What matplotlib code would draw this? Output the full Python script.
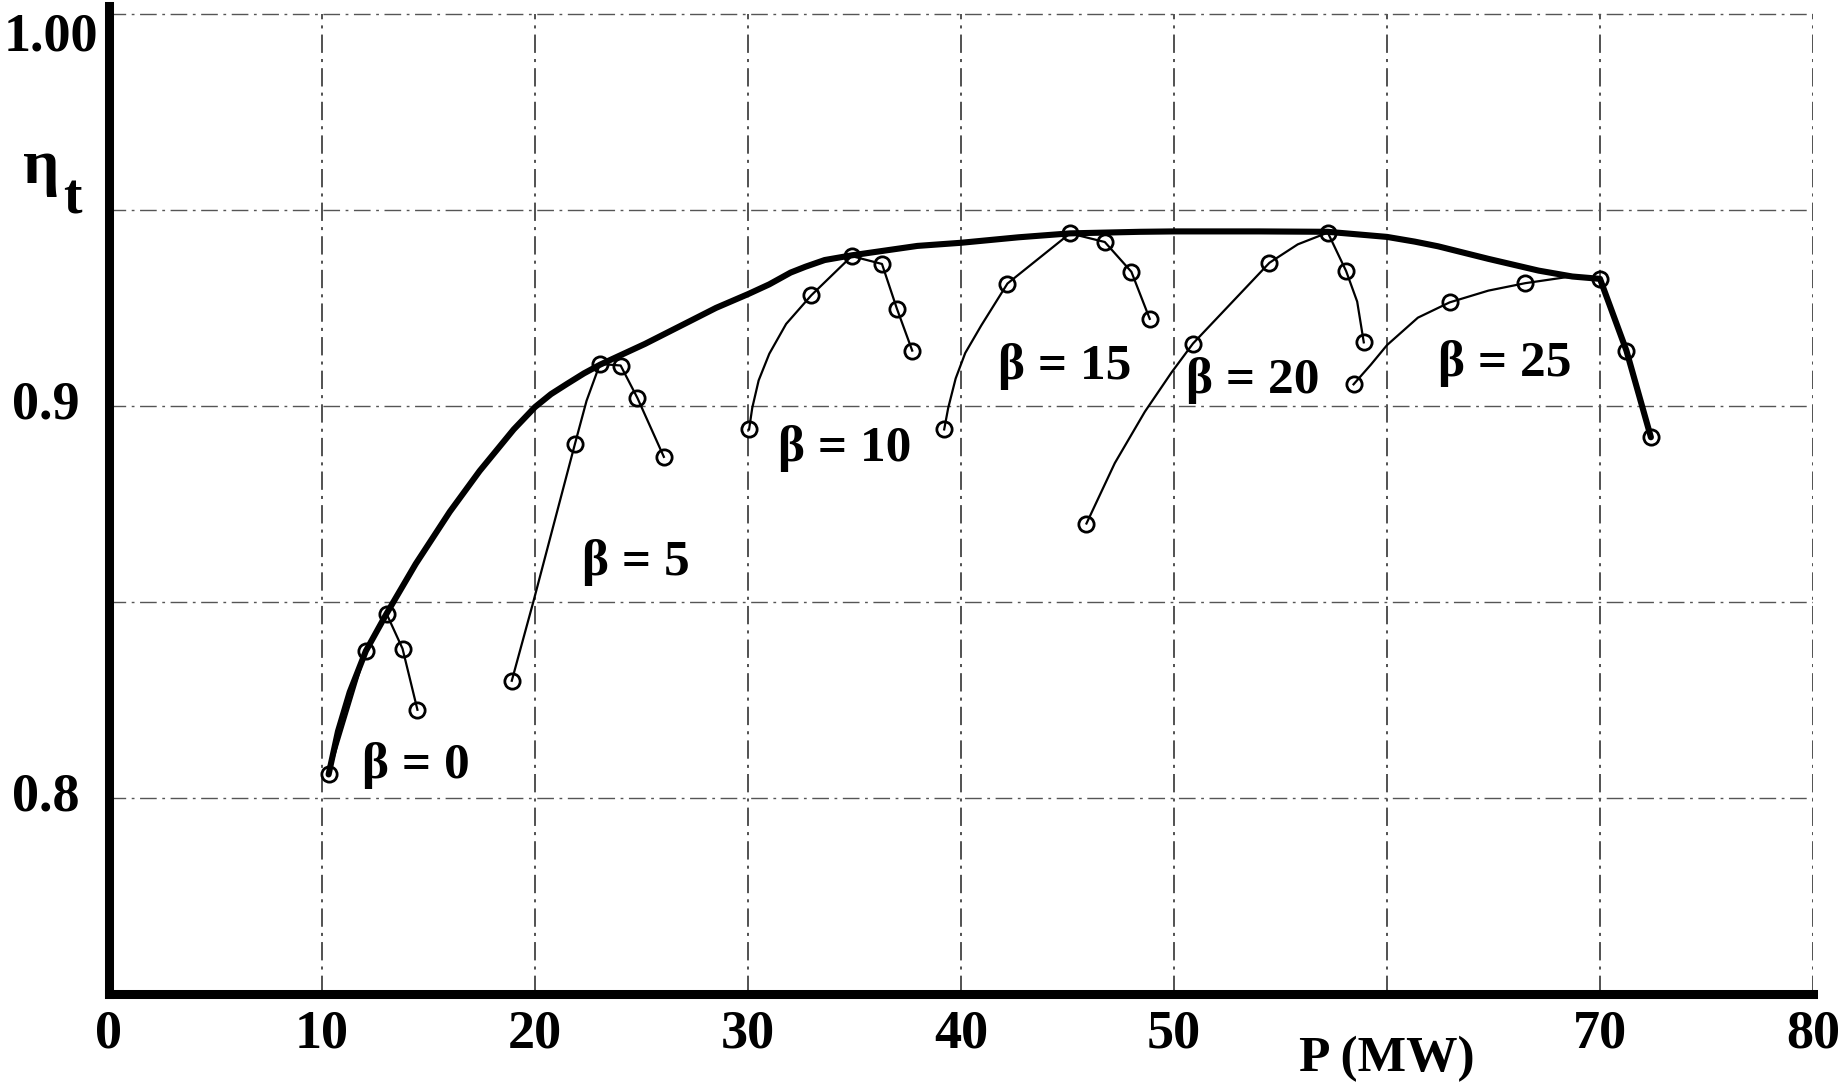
import matplotlib
matplotlib.use("Agg")
import matplotlib.pyplot as plt
import matplotlib.transforms as mtransforms

plt.rcParams["font.family"] = ["Liberation Serif", "DejaVu Serif"]

# envelope of best efficiency (thick line)
env_p = [10.31, 10.75, 11.3, 12.06, 13.03, 14.4, 16.0, 17.4, 19.0, 20.0, 20.75,
         21.5, 22.3, 23.05, 25.16, 27.34, 28.5, 30.0, 31.0, 32.0, 32.7, 33.6,
         34.87, 37.95, 40.0, 42.7, 45.12, 48.4, 50.0, 54.0, 57.22, 60.0, 61.3,
         62.4, 64.76, 67.12, 68.7, 70.0, 71.24, 72.39]
env_eta = [0.806, 0.817, 0.827, 0.8375, 0.847, 0.8597, 0.873, 0.8834, 0.894,
           0.8997, 0.903, 0.9056, 0.9083, 0.9105, 0.9158, 0.9218, 0.925, 0.9285,
           0.931, 0.934, 0.9355, 0.9372, 0.9384, 0.9408, 0.9416, 0.943, 0.944,
           0.9444, 0.9445, 0.9445, 0.9444, 0.9431, 0.9419, 0.9407, 0.9375, 0.9345,
           0.933, 0.9324, 0.9141, 0.892]

# curves for each blade angle beta, and which points carry a circle
b0_p = [10.31, 12.06, 13.03, 13.78, 14.1, 14.48]
b0_eta = [0.806, 0.8375, 0.847, 0.8381, 0.831, 0.8225]
b0_marks = [0, 1, 2, 3, 5]

b5_p = [18.91, 19.92, 21.875, 22.42, 23.05, 24.02, 24.81, 26.05]
b5_eta = [0.8299, 0.85, 0.8903, 0.9013, 0.9107, 0.9103, 0.902, 0.887]
b5_marks = [0, 2, 4, 5, 6, 7]

b10_p = [30.05, 30.2, 30.5, 31.0, 31.79, 32.97, 34.87, 36.29, 36.99, 37.71]
b10_eta = [0.894, 0.8995, 0.9065, 0.9133, 0.9209, 0.9282, 0.9382, 0.9362, 0.9248,
           0.9141]
b10_marks = [0, 5, 6, 7, 8, 9]

b15_p = [39.21, 39.4, 39.75, 40.2, 40.95, 42.18, 45.12, 46.75, 48.0, 48.86]
b15_eta = [0.894, 0.8995, 0.907, 0.9135, 0.9205, 0.9312, 0.944, 0.9418, 0.9342,
           0.9222]
b15_marks = [0, 5, 6, 7, 8, 9]

b20_p = [45.89, 47.22, 48.63, 49.88, 50.89, 54.48, 55.81, 57.22, 58.08, 58.6, 58.91]
b20_eta = [0.870, 0.8854, 0.8985, 0.9085, 0.9159, 0.9365, 0.9412, 0.9442, 0.9344,
           0.9266, 0.9162]
b20_marks = [0, 4, 5, 7, 8, 10]

b25_p = [58.43, 59.24, 60.0, 61.45, 62.94, 64.76, 66.49, 68.38, 70.0, 71.24, 72.39]
b25_eta = [0.9055, 0.9105, 0.9155, 0.9225, 0.9264, 0.9294, 0.9313, 0.9328, 0.9324,
           0.9141, 0.892]
b25_marks = [0, 4, 6, 8, 9, 10]

beta_labels = ["β = 0", "β = 5", "β = 10", "β = 15", "β = 20", "β = 25"]
label_p = [11.88, 22.19, 31.39, 41.74, 50.58, 62.39]
label_eta = [0.8051, 0.8568, 0.8859, 0.9068, 0.9034, 0.9075]

x_ticks = [0, 10, 20, 30, 40, 50, 60, 70, 80]
x_ticklabels = ["0", "10", "20", "30", "40", "50", "", "70", "80"]
x_grid = [10, 20, 30, 40, 50, 60, 70, 80]
y_grid = [0.8, 0.85, 0.9, 0.95, 1.0]
y_ticks = [0.8, 0.9, 1.0]
y_ticklabels = ["0.8", "0.9", "1.00"]

fig = plt.figure(figsize=(18.49, 10.84), dpi=100)
ax = fig.add_axes([109 / 1849, 0.083, 1704 / 1849, 0.9115])
ax.set_xlim(0, 80)
ax.set_ylim(0.75, 1.002)

gridstyle = (0, (12, 4, 2, 4))
ax.vlines(x_grid, 0.75, 1.0, colors="#222222", linewidth=1.1,
          linestyles=[gridstyle], zorder=1)
ax.hlines(y_grid, 0, 80, colors="#555555", linewidth=1.0,
          linestyles=[gridstyle], zorder=1)

ax.plot(env_p, env_eta, color="black", linewidth=4.4, zorder=3,
        solid_capstyle="round", solid_joinstyle="round")

curves = [(b0_p, b0_eta, b0_marks), (b5_p, b5_eta, b5_marks),
          (b10_p, b10_eta, b10_marks), (b15_p, b15_eta, b15_marks),
          (b20_p, b20_eta, b20_marks), (b25_p, b25_eta, b25_marks)]
for p, eta, marks in curves:
    ax.plot(p, eta, color="black", linewidth=1.6, zorder=2,
            solid_joinstyle="round")
    ax.plot([p[i] for i in marks], [eta[i] for i in marks], linestyle="none",
            marker="o", markersize=11, markerfacecolor="none",
            markeredgecolor="black", markeredgewidth=2.0, zorder=4)

for txt, p, eta in zip(beta_labels, label_p, label_eta):
    ax.text(p, eta, txt, fontsize=37, fontweight="bold", ha="left",
            va="baseline", zorder=5)

# axes frame: only left and bottom, thick
for side in ["top", "right"]:
    ax.spines[side].set_visible(False)
for side in ["left", "bottom"]:
    ax.spines[side].set_linewidth(6.5)
    ax.spines[side].set_capstyle("projecting")

ax.set_xticks(x_ticks)
ax.set_xticklabels(x_ticklabels, fontsize=39, fontweight="bold")
ax.tick_params(axis="x", length=0, pad=11)
ax.set_yticks([])

# y tick labels, placed by hand like the original
for val, lab in zip(y_ticks, y_ticklabels):
    if lab == "1.00":
        off = (-8, -17)
    else:
        off = (-21, 0)
    ax.annotate(lab, xy=(0, val), xycoords=("axes fraction", "data"),
                xytext=off, textcoords="offset points", ha="right",
                va="center", fontsize=39, fontweight="bold")

trans = mtransforms.blended_transform_factory(ax.transData, fig.transFigure)
ax.text(60, 0.044, "P (MW)", transform=trans, ha="center", va="top",
        fontsize=37, fontweight="bold")

fig.text(41 / 1849, 1 - 168 / 1084, "η", fontsize=46, fontweight="bold",
         ha="center", va="center")
fig.text(72 / 1849, 1 - 200 / 1084, "t", fontsize=40, fontweight="bold",
         ha="center", va="center")

fig.savefig("out.png", dpi=100)
